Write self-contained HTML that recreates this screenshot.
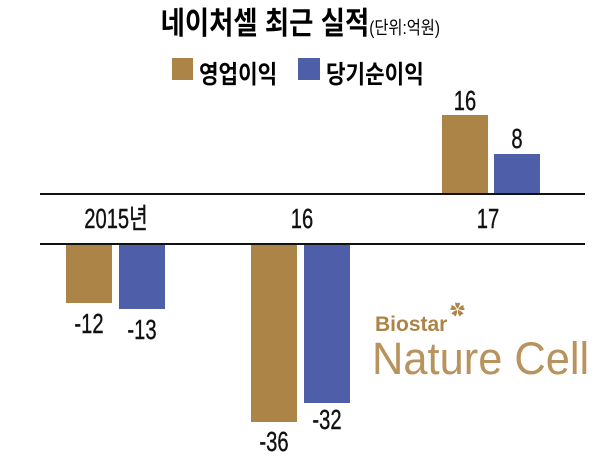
<!DOCTYPE html>
<html><head><meta charset="utf-8"><style>
body{margin:0;width:600px;height:463px;background:#fff;overflow:hidden;position:relative;font-family:"Liberation Sans","Noto Sans CJK KR",sans-serif}
.a{position:absolute;white-space:nowrap}
.t{position:absolute;white-space:nowrap;transform:translateX(-50%) scaleX(0.72);font-size:28px;color:#111;line-height:1;-webkit-text-stroke:0.4px #111}
.br{background:#ad8447}.bl{background:#4e5ea8}
</style></head><body>
<div class="a" style="left:0;width:600px;top:8px;text-align:center;line-height:1"><span style="display:inline-block;transform:scaleX(0.85)"><span style="font-size:31px;font-weight:bold">네이처셀 최근 실적</span><span style="font-size:18px">(단위:억원)</span></span></div>
<div class="a br" style="left:172px;top:58px;width:21px;height:22px"></div>
<div class="a" style="left:199px;top:55px;font-size:25px;font-weight:bold;transform:scaleX(0.85);transform-origin:left">영업이익</div>
<div class="a bl" style="left:298px;top:58px;width:22px;height:22px"></div>
<div class="a" style="left:326px;top:55px;font-size:25px;font-weight:bold;transform:scaleX(0.85);transform-origin:left">당기순이익</div>
<div class="a" style="left:40px;top:193px;width:545px;height:2px;background:#111"></div>
<div class="a" style="left:40px;top:243px;width:545px;height:2px;background:#111"></div>
<div class="a br" style="left:442px;top:115px;width:46px;height:78px"></div>
<div class="a bl" style="left:494px;top:154px;width:46px;height:39px"></div>
<div class="a br" style="left:66px;top:245px;width:46px;height:58px"></div>
<div class="a bl" style="left:119px;top:245px;width:46px;height:64px"></div>
<div class="a br" style="left:251px;top:245px;width:46px;height:177px"></div>
<div class="a bl" style="left:304px;top:245px;width:46px;height:158px"></div>
<div class="t" style="left:465px;top:87px">16</div>
<div class="t" style="left:517px;top:125px">8</div>
<div class="t" style="left:116px;top:205px">2015년</div>
<div class="t" style="left:302px;top:205px">16</div>
<div class="t" style="left:488px;top:205px">17</div>
<div class="t" style="left:89px;top:310px">-12</div>
<div class="t" style="left:142px;top:316px">-13</div>
<div class="t" style="left:274px;top:428px">-36</div>
<div class="t" style="left:327px;top:406px">-32</div>
<div class="a" style="left:375px;top:314px;font-size:21px;font-weight:bold;color:#ad8447;line-height:1">Biostar</div>
<div class="a" style="left:450px;top:303px;font-size:15px;color:#ad8447;line-height:1">✿</div>
<div class="a" style="left:372px;top:336px;font-size:45px;color:#b8935e;line-height:1;transform:scaleX(0.965);transform-origin:left">Nature Cell</div>
</body></html>
